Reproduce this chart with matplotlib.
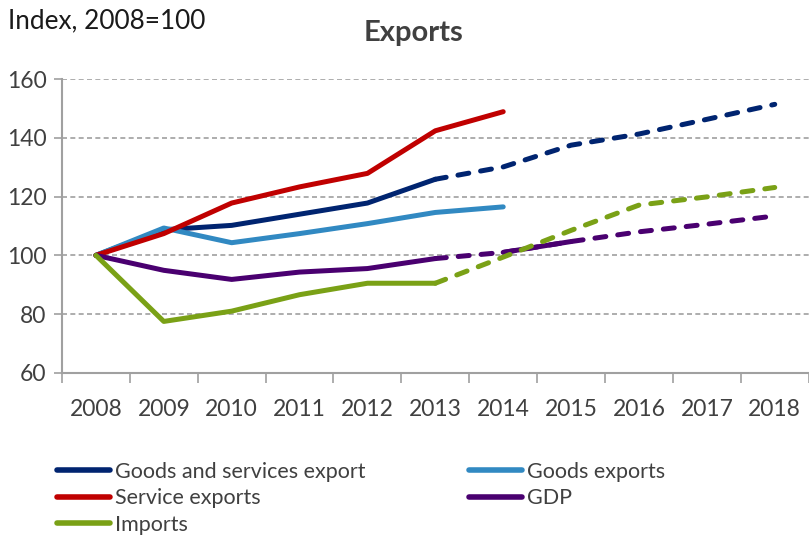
import numpy as np
import matplotlib.pyplot as plt

years = ['2008', '2009', '2010', '2011', '2012', '2013', '2014', '2015', '2016', '2017', '2018']
nan = np.nan

# actual data (solid)
gs_export = [100, 108.7, 110.2, 114.0, 117.8, 125.9, nan, nan, nan, nan, nan]
goods_export = [100, 109.3, 104.3, 107.4, 110.8, 114.6, 116.5, nan, nan, nan, nan]
service_export = [100, 107.4, 117.8, 123.3, 127.9, 142.4, 148.9, nan, nan, nan, nan]
gdp = [100, 94.9, 91.8, 94.3, 95.5, 98.9, nan, nan, nan, nan, nan]
gdp_2014_2015 = [nan, nan, nan, nan, nan, nan, 101.0, 104.7, nan, nan, nan]
imports = [100, 77.5, 81.0, 86.6, 90.5, 90.5, nan, nan, nan, nan, nan]

# forecasts (dashed)
gs_export_fc = [nan, nan, nan, nan, nan, 125.9, 130.1, 137.5, 141.3, 146.3, 151.4]
gdp_fc = [nan, nan, nan, nan, nan, 98.9, 101.0, 104.7, 108.0, 110.6, 113.4]
imports_fc = [nan, nan, nan, nan, nan, 90.5, 99.4, 108.5, 117.1, 119.9, 123.1]

c_gs = '#002470'
c_goods = '#3189c2'
c_serv = '#c00000'
c_gdp = '#4a0070'
c_imp = '#7aa116'
txt = '#404040'
grey = '#a0a0a0'

plt.rcParams['font.family'] = ['Lato', 'DejaVu Sans']

fig = plt.figure(figsize=(8.09, 5.38), dpi=100)
ax = fig.add_axes([0.0766, 0.307, 0.923, 0.546])

x = np.arange(len(years))
lw = 3.6
dash = (2.2, 2.4)

def solid(vals, c):
    return ax.plot(x, vals, color=c, lw=lw, solid_capstyle='round', solid_joinstyle='round')[0]

def dashed(vals, c):
    ax.plot(x, vals, color=c, lw=lw, dashes=dash, dash_capstyle='round', dash_joinstyle='round')

h_gs = solid(gs_export, c_gs)
dashed(gs_export_fc, c_gs)
h_goods = solid(goods_export, c_goods)
h_serv = solid(service_export, c_serv)
h_gdp = solid(gdp, c_gdp)
dashed(gdp_fc, c_gdp)
solid(gdp_2014_2015, c_gdp)
h_imp = solid(imports, c_imp)
dashed(imports_fc, c_imp)

ax.set_xlim(-0.5, len(years) - 0.5)
ax.set_ylim(60, 160)
ax.set_yticks(np.arange(60, 161, 20))
ax.set_xticks(x)
ax.set_xticklabels(years)
ax.set_xticks(np.arange(-0.5, len(years), 1), minor=True)
ax.tick_params(axis='x', which='major', length=0, pad=19, labelsize=16.5, labelcolor=txt)
ax.tick_params(axis='x', which='minor', length=7, color=grey, width=1.2, direction='out')
ax.tick_params(axis='y', length=6, color=grey, width=1.2, labelsize=16.5, labelcolor=txt, pad=5)

ax.grid(axis='y', color=grey, linestyle=(0, (3, 2)), lw=1.2)
ax.set_axisbelow(True)
for s in ['top', 'right']:
    ax.spines[s].set_visible(False)
for s in ['left', 'bottom']:
    ax.spines[s].set_color(grey)
    ax.spines[s].set_linewidth(1.5)

fig.text(0.01, 0.962, 'Index, 2008=100', fontsize=18.8, color='#1a1a1a', va='center', ha='left')
fig.text(0.511, 0.938, 'Exports', fontsize=21, fontweight='bold', color=txt, va='center', ha='center')

leg = fig.legend([h_gs, h_serv, h_imp, h_goods, h_gdp],
                 ['Goods and services export', 'Service exports', 'Imports', 'Goods exports', 'GDP'],
                 loc='upper left', bbox_to_anchor=(0.060, 0.158), ncol=2, frameon=False,
                 fontsize=15.5, handlelength=2.45, handletextpad=0.25, columnspacing=4.8,
                 labelspacing=0.3, borderaxespad=0)
for t in leg.get_texts():
    t.set_color(txt)
for l in leg.get_lines():
    l.set_linewidth(4)

fig.savefig('out.png', dpi=100)
